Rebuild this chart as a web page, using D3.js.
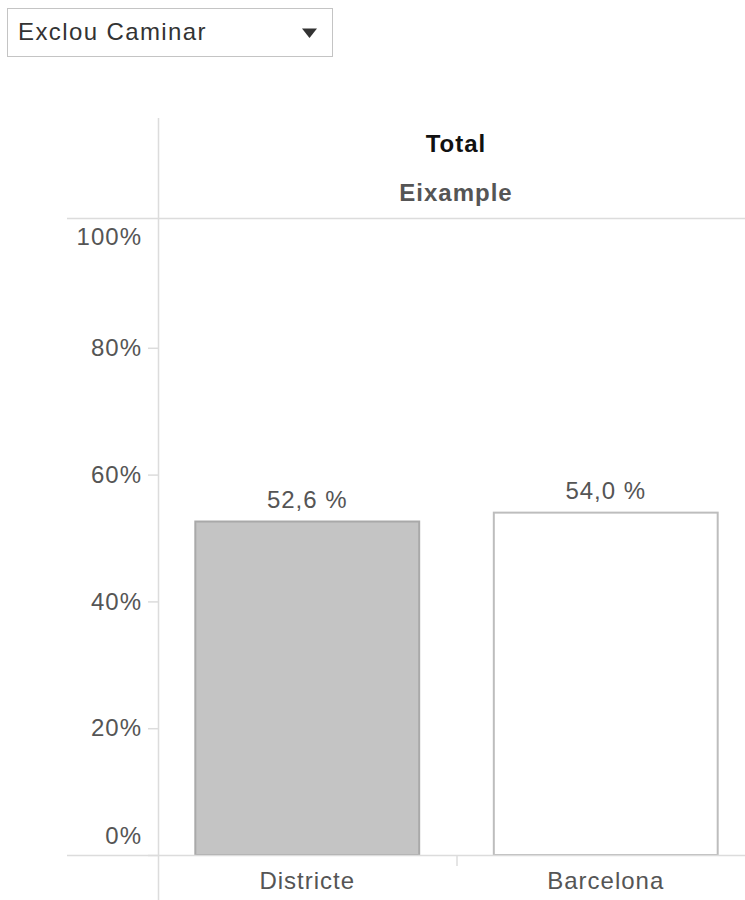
<!DOCTYPE html>
<html>
<head>
<meta charset="utf-8">
<script src="https://cdn.jsdelivr.net/npm/d3@7"></script>
<style>
  html, body { margin: 0; padding: 0; background: #fff; }
  svg { display: block; font-family: Arial, "Liberation Sans", sans-serif; }
  svg text { letter-spacing: 1px; }
</style>
</head>
<body>
<svg id="chart" width="745" height="900"></svg>
<script>
// Share of trips, Eixample district vs. the whole city
const categories = ["Districte", "Barcelona"];
const values = [0.526, 0.540];
const valueLabels = ["52,6 %", "54,0 %"];
const yTicks = [0, 0.2, 0.4, 0.6, 0.8, 1.0];
const yTickLabels = ["0%", "20%", "40%", "60%", "80%", "100%"];
const filterLabel = "Exclou Caminar";
const headerTop = "Total";
const headerSub = "Eixample";

const svg = d3.select("#chart");
const lineColor = "#dcdcdc";
const textGray = "#555";
const fontSize = 24;

// Filter dropdown
const dd = svg.append("g");
dd.append("rect").attr("x", 7.5).attr("y", 8.5).attr("width", 325).attr("height", 48)
  .attr("fill", "#fff").attr("stroke", "#c4c4c4").attr("stroke-width", 1);
dd.append("text").attr("x", 18).attr("y", 40).attr("font-size", 24).attr("fill", "#333")
  .style("letter-spacing", "1.4px")
  .text(filterLabel);
dd.append("path").attr("d", "M302,28.5 L317,28.5 L309.5,38 Z").attr("fill", "#333");

// Plot area
const plotLeft = 158, plotRight = 755, plotTop = 221, plotBottom = 855;

const x = d3.scaleBand().domain(categories).range([plotLeft, plotRight])
  .paddingInner(0.25).paddingOuter(0.125);
const y = d3.scaleLinear().domain([0, 1]).range([plotBottom, plotTop]);

// Frame lines
svg.append("line").attr("x1", plotLeft + 0.5).attr("x2", plotLeft + 0.5).attr("y1", 118).attr("y2", 900)
  .attr("stroke", lineColor).attr("stroke-width", 1.5);
svg.append("line").attr("x1", 67).attr("x2", 745).attr("y1", 218.5).attr("y2", 218.5)
  .attr("stroke", lineColor).attr("stroke-width", 1.5);

// Headers
svg.append("text").attr("x", 456).attr("y", 152).attr("text-anchor", "middle")
  .attr("font-size", fontSize).attr("font-weight", "bold").attr("fill", "#111").text(headerTop);
svg.append("text").attr("x", 456).attr("y", 201).attr("text-anchor", "middle")
  .attr("font-size", fontSize).attr("font-weight", "bold").attr("fill", textGray).text(headerSub);

// Y axis
const yAxis = d3.axisLeft(y).tickValues(yTicks).tickSize(10).tickPadding(6)
  .tickFormat((d, i) => yTickLabels[i]);
const gy = svg.append("g").attr("transform", `translate(${plotLeft},0)`).call(yAxis);
gy.select(".domain").remove();
gy.selectAll(".tick line").attr("stroke", lineColor).attr("stroke-width", 1.5)
  .attr("opacity", d => d === 1 ? 0 : 1);
gy.selectAll(".tick text").attr("font-size", fontSize).attr("fill", textGray)
  .attr("font-family", "Arial, 'Liberation Sans', sans-serif")
  .attr("y", d => d === 1 ? 16 : d === 0 ? -19 : 0);

// Bars
const fills = ["#c4c4c4", "#ffffff"];
const strokes = ["#a9a9a9", "#bdbdbd"];
svg.append("g").selectAll("rect").data(categories).join("rect")
  .attr("x", d => x(d))
  .attr("y", (d, i) => y(values[i]))
  .attr("width", x.bandwidth())
  .attr("height", (d, i) => y(0) - y(values[i]))
  .attr("fill", (d, i) => fills[i])
  .attr("stroke", (d, i) => strokes[i])
  .attr("stroke-width", 2);

// Value labels
svg.append("g").selectAll("text").data(categories).join("text")
  .attr("x", d => x(d) + x.bandwidth() / 2)
  .attr("y", (d, i) => y(values[i]) - 14)
  .attr("text-anchor", "middle").attr("font-size", fontSize).attr("fill", textGray)
  .text((d, i) => valueLabels[i]);

// X axis baseline and category labels
svg.append("line").attr("x1", 67).attr("x2", 745).attr("y1", plotBottom + 0.5).attr("y2", plotBottom + 0.5)
  .attr("stroke", lineColor).attr("stroke-width", 1.5);
svg.append("line").attr("x1", 457).attr("x2", 457).attr("y1", plotBottom).attr("y2", plotBottom + 11)
  .attr("stroke", lineColor).attr("stroke-width", 1.5);
svg.append("g").selectAll("text").data(categories).join("text")
  .attr("x", d => x(d) + x.bandwidth() / 2)
  .attr("y", 889)
  .attr("text-anchor", "middle").attr("font-size", fontSize).attr("fill", textGray)
  .text(d => d);
</script>
</body>
</html>
